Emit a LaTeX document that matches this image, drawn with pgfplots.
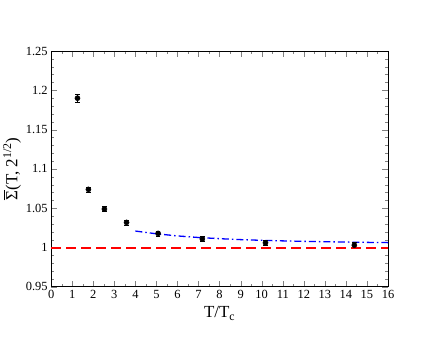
\documentclass[border=0pt]{standalone}
\usepackage{pgfplots}
\pgfplotsset{compat=1.18}
\usepackage{fontspec}
\setmainfont{Liberation Serif}
\begin{document}
\begin{tikzpicture}
\path (0,0) rectangle (436bp,337bp);
\begin{axis}[
    at={(51bp,50bp)}, anchor=south west,
    width=337bp, height=236bp, scale only axis,
    xmin=0, xmax=16, ymin=0.95, ymax=1.25,
    xtick={0,1,...,16}, minor x tick num=1,
    ytick={0.95,1,1.05,1.1,1.15,1.2,1.25}, minor y tick num=4,
    tick align=inside, tick pos=both,
    major tick length=6bp, minor tick length=3bp,
    axis line style={line width=0.8pt},
    /pgf/number format/assume math mode=true,
    ticklabel style={font=\fontsize{12.5}{14}\selectfont},
    yticklabel style={/pgf/number format/fixed, /pgf/number format/precision=2},
    xlabel={T/T\textsubscript{c}},
    ylabel={\vbox{\hrule height 0.7pt\kern 1.5pt\hbox{Σ}}(T, 2\textsuperscript{1/2})},
    label style={font=\fontsize{17}{19}\selectfont},
    xlabel style={yshift=-1bp},
    ylabel style={yshift=-2bp},
    clip=false,
]
\addplot[mark=none, blue, line width=1.3pt, dash pattern=on 7bp off 3bp on 1.5bp off 3bp] coordinates {
(4,1.021) (5,1.0175) (6,1.0148) (7,1.0128) (8,1.0113) (9,1.0101) (10,1.0092)
(11,1.0085) (12,1.0079) (13,1.0074) (14,1.0070) (15,1.0066) (16,1.0063)};
\addplot[only marks, mark=*, mark size=2.6pt, black,
    error bars/.cd, y dir=both, y explicit,
    error bar style={line width=0.7pt}, error mark options={rotate=90, mark size=2.2pt}]
    table[x=x, y=y, y error=e] {
x     y      e
1.25  1.190  0.005
1.77  1.074  0.003
2.53  1.049  0.003
3.58  1.032  0.003
5.08  1.018  0.003
7.18  1.011  0.003
10.18 1.006  0.003
14.40 1.003  0.004
};
\addplot[mark=none, draw=red, line width=2pt, dash pattern=on 10bp off 5bp] coordinates {(0,1.0) (16,1.0)};
\end{axis}
\end{tikzpicture}
\end{document}
